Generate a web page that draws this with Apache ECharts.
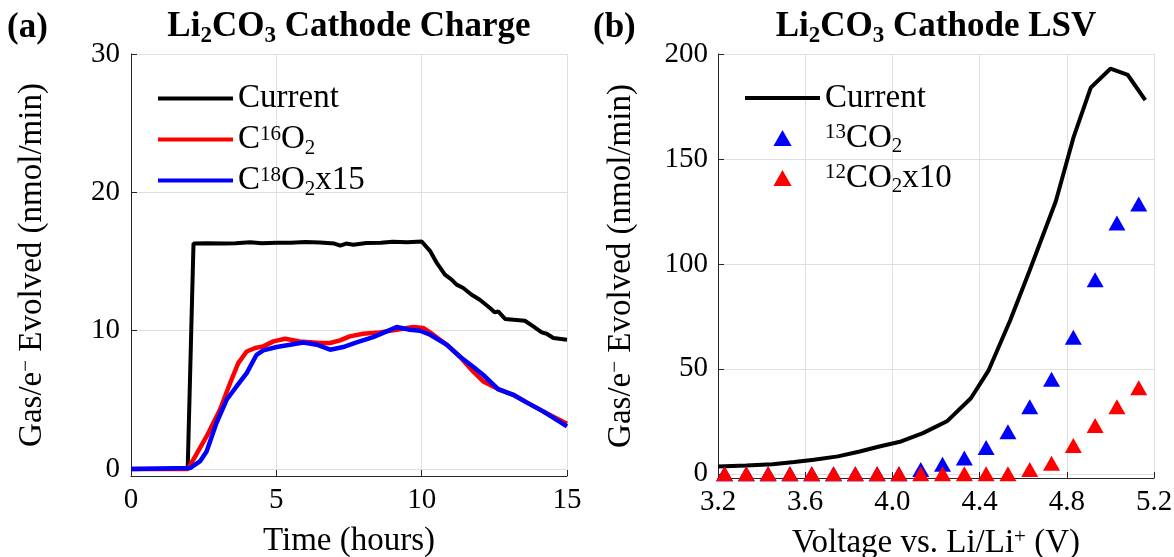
<!DOCTYPE html>
<html>
<head>
<meta charset="utf-8">
<title>Li2CO3 cathode gas evolution</title>
<script src="https://cdn.jsdelivr.net/npm/echarts@6/dist/echarts.min.js"></script>
<style>
  html, body { margin: 0; padding: 0; background: #ffffff; }
  #chart { width: 1174px; height: 557px; }
</style>
</head>
<body>
<div id="chart"></div>
<script>
// ---------- (a) galvanostatic charge: time in hours, rates in nmol/min ----------
const chargeCurrentTime = [0, 1.95, 2.15, 2.6, 3.2, 3.6, 4.1, 4.5, 5.0, 5.5, 6.0, 6.5, 7.0, 7.2, 7.4, 7.65, 8.1, 8.6, 9.0, 9.5, 10.0,
  10.3, 10.52, 10.8, 11.03, 11.2, 11.43, 11.72, 12.0, 12.35, 12.52, 12.63, 12.87, 13.55, 13.84, 14.13, 14.3, 14.53, 15.0];
const chargeCurrent = [0, 0, 16.3, 16.32, 16.3, 16.32, 16.4, 16.33, 16.35, 16.35, 16.42, 16.38, 16.3, 16.15, 16.3, 16.22, 16.34, 16.35, 16.43, 16.4, 16.45,
  15.73, 14.9, 14.05, 13.69, 13.33, 13.09, 12.6, 12.24, 11.64, 11.32, 11.4, 10.85, 10.72, 10.31, 9.88, 9.78, 9.47, 9.35];

const c16Time = [0, 1.95, 2.14, 2.6, 3.06, 3.41, 3.69, 3.98, 4.27, 4.55, 4.9, 5.3, 5.81, 6.5, 6.85, 7.19, 7.53, 7.99, 8.56, 9.14, 9.71, 10.05,
  10.4, 10.86, 11.31, 11.77, 12.12, 12.63, 13.15, 13.61, 14.18, 15.0];
const c16Rate = [0, 0, 0.67, 2.36, 4.29, 6.22, 7.66, 8.5, 8.75, 8.87, 9.23, 9.42, 9.23, 9.11, 9.11, 9.3, 9.59, 9.78, 9.88, 10.07, 10.27, 10.2,
  9.71, 8.99, 8.14, 7.06, 6.33, 5.78, 5.37, 4.82, 4.17, 3.28];

const c18Time = [0, 2.03, 2.37, 2.6, 2.94, 3.29, 3.63, 3.98, 4.32, 4.55, 5.01, 5.47, 5.93, 6.39, 6.85, 7.3, 7.76, 8.33, 8.8, 9.14, 9.6, 9.94,
  10.29, 10.86, 11.31, 11.77, 12.12, 12.63, 13.15, 13.61, 14.18, 15.0];
const c18RateX15 = [0, 0.07, 0.55, 1.27, 3.33, 5.01, 5.97, 6.94, 8.26, 8.58, 8.82, 8.99, 9.15, 8.99, 8.63, 8.82, 9.15, 9.54, 9.95, 10.27, 10.07, 10.0,
  9.71, 8.99, 8.14, 7.4, 6.8, 5.78, 5.37, 4.82, 4.17, 3.08];

const chargeTimeTicks = [0, 5, 10, 15];
const chargeRateTicks = [0, 10, 20, 30];

// ---------- (b) linear sweep voltammetry: voltage vs. Li/Li+ ----------
const lsvVoltage = [3.20, 3.33, 3.45, 3.55, 3.64, 3.75, 3.85, 3.94, 4.04, 4.14, 4.25, 4.36, 4.44, 4.54, 4.63, 4.75, 4.83, 4.91, 5.00, 5.08, 5.16];
const lsvCurrent = [3.5, 3.9, 4.6, 5.6, 6.7, 8.3, 10.6, 13, 15.4, 19.4, 25, 36, 49, 73, 97, 130, 160, 184, 193, 190, 178];

const msVoltage = [3.23, 3.33, 3.43, 3.53, 3.63, 3.73, 3.83, 3.93, 4.03, 4.13, 4.23, 4.33, 4.43, 4.53, 4.63, 4.73, 4.83, 4.93, 5.03, 5.13];
const co2_13 = [0, 0, 0, 0, 0, 0, 0, 0, 0, 2, 4.5, 7.5, 12.5, 20, 32, 45, 65, 92.5, 119.5, 128.5];
const co2_12x10 = [0, 0, 0, 0, 0, 0, 0, 0, 0, 0, 0, 0, 0, 0, 2, 5, 13.5, 23, 32, 41];

const voltageTicks = [3.2, 3.6, 4.0, 4.4, 4.8, 5.2];
const lsvRateTicks = [0, 50, 100, 150, 200];

// ---------- styling ----------
const FONT = "'Liberation Serif', 'Times New Roman', serif";
const AXIS_COLOR = '#262626';
const GRID_COLOR = '#dfdfdf';

// legend keys: a thick line segment and a filled triangle, kept at their own aspect
const LINE_KEY = 'path://M0,0 L75,0 L75,4 L0,4 Z';
const TRIANGLE_KEY = 'path://M0,15 L8.5,0 L17,15 Z';

const pairs = (xs, ys) => xs.map((x, i) => [x, ys[i]]);

// rich-text pieces for sub/superscripts
const supStyle = (lh, pad) => ({ fontFamily: FONT, fontSize: 21, lineHeight: lh, padding: [0, 0, pad, 0], color: '#000' });
const subStyle = (lh, pad) => ({ fontFamily: FONT, fontSize: 21, lineHeight: lh, padding: [pad, 0, 0, 0], color: '#000' });

function valueAxis(ticks, extra) {
  return Object.assign({
    type: 'value',
    axisLine: { show: true, onZero: false, lineStyle: { color: AXIS_COLOR, width: 1 } },
    axisTick: { show: true, inside: true, length: 6, customValues: ticks, lineStyle: { color: AXIS_COLOR, width: 1 } },
    axisLabel: { customValues: ticks, fontFamily: FONT, fontSize: 29, color: '#000' },
    splitLine: { show: true, lineStyle: { color: GRID_COLOR, width: 1 } },
    nameLocation: 'middle',
    nameTextStyle: {
      fontFamily: FONT, fontSize: 33, color: '#000', lineHeight: 40,
      rich: { sup: supStyle(29, 11) }
    }
  }, extra);
}

const titleText = () => ({
  fontFamily: FONT, fontSize: 35, fontWeight: 'bold', color: '#000', lineHeight: 40,
  rich: { sub: { fontFamily: FONT, fontSize: 23, fontWeight: 'bold', lineHeight: 22, padding: [18, 0, 0, 0], color: '#000' } }
});

const legendLabels = {
  'Charge current': 'Current',
  'C16O2': 'C{sup|16}O{sub|2}',
  'C18O2x15': 'C{sup|18}O{sub|2}x15',
  'LSV current': 'Current',
  '13CO2': '{sup|13}CO{sub|2}',
  '12CO2x10': '{sup|12}CO{sub|2}x10'
};

const legendBase = (lh) => ({
  orient: 'vertical', padding: 0, itemGap: 0, itemWidth: 75, itemHeight: 16,
  symbolKeepAspect: true,
  selectedMode: false,
  formatter: (name) => legendLabels[name],
  textStyle: {
    fontFamily: FONT, fontSize: 33, color: '#000', lineHeight: lh,
    rich: { sup: supStyle(lh - 11, 11), sub: subStyle(lh - 17, 17) }
  }
});

const chart = echarts.init(document.getElementById('chart'), null, { renderer: 'canvas' });

chart.setOption({
  animation: false,
  backgroundColor: '#ffffff',
  title: [
    { text: '(a)', left: 7, top: 8, padding: 0, textStyle: titleText() },
    { text: 'Li{sub|2}CO{sub|3} Cathode Charge', left: 349, top: 7, padding: 0, textAlign: 'center', textStyle: titleText() },
    { text: '(b)', left: 593, top: 8, padding: 0, textStyle: titleText() },
    { text: 'Li{sub|2}CO{sub|3} Cathode LSV', left: 936, top: 7, padding: 0, textAlign: 'center', textStyle: titleText() }
  ],
  legend: [
    Object.assign(legendBase(41), {
      left: 158, top: 78,
      data: [
        { name: 'Charge current', icon: LINE_KEY },
        { name: 'C16O2', icon: LINE_KEY },
        { name: 'C18O2x15', icon: LINE_KEY }
      ]
    }),
    Object.assign(legendBase(40), {
      left: 745, top: 78,
      data: [
        { name: 'LSV current', icon: LINE_KEY },
        { name: '13CO2', icon: TRIANGLE_KEY },
        { name: '12CO2x10', icon: TRIANGLE_KEY }
      ]
    })
  ],
  grid: [
    { left: 131, top: 54, width: 436, height: 422, outerBoundsMode: 'none', containLabel: false },
    { left: 718, top: 54, width: 436, height: 424, outerBoundsMode: 'none', containLabel: false }
  ],
  xAxis: [
    valueAxis(chargeTimeTicks, {
      gridIndex: 0, min: 0, max: 15, name: 'Time (hours)', nameGap: 45,
      axisLabel: { customValues: chargeTimeTicks, fontFamily: FONT, fontSize: 29, color: '#000', margin: 10 }
    }),
    valueAxis(voltageTicks, {
      gridIndex: 1, min: 3.2, max: 5.2, name: 'Voltage vs. Li/Li{sup|+} (V)', nameGap: 45,
      axisLabel: { customValues: voltageTicks, fontFamily: FONT, fontSize: 29, color: '#000', margin: 10,
        formatter: (v) => v.toFixed(1) }
    })
  ],
  yAxis: [
    valueAxis(chargeRateTicks, {
      gridIndex: 0, min: -0.5, max: 30, name: 'Gas/e{sup|\u2212} Evolved (nmol/min)', nameGap: 79,
      axisLabel: { customValues: chargeRateTicks, fontFamily: FONT, fontSize: 29, color: '#000', margin: 11 }
    }),
    valueAxis(lsvRateTicks, {
      gridIndex: 1, min: -2, max: 200, name: 'Gas/e{sup|\u2212} Evolved (nmol/min)', nameGap: 77,
      axisLabel: { customValues: lsvRateTicks, fontFamily: FONT, fontSize: 29, color: '#000', margin: 10 }
    })
  ],
  series: [
    { name: 'Charge current', type: 'line', xAxisIndex: 0, yAxisIndex: 0, data: pairs(chargeCurrentTime, chargeCurrent),
      showSymbol: false, symbol: 'none', color: '#000000', lineStyle: { color: '#000000', width: 4 }, z: 3 },
    { name: 'C16O2', type: 'line', xAxisIndex: 0, yAxisIndex: 0, data: pairs(c16Time, c16Rate),
      showSymbol: false, symbol: 'none', color: '#ff0000', lineStyle: { color: '#ff0000', width: 4.5 }, z: 4 },
    { name: 'C18O2x15', type: 'line', xAxisIndex: 0, yAxisIndex: 0, data: pairs(c18Time, c18RateX15),
      showSymbol: false, symbol: 'none', color: '#0000ff', lineStyle: { color: '#0000ff', width: 4.5 }, z: 5 },

    { name: 'LSV current', type: 'line', xAxisIndex: 1, yAxisIndex: 1, data: pairs(lsvVoltage, lsvCurrent),
      showSymbol: false, symbol: 'none', color: '#000000', lineStyle: { color: '#000000', width: 4 }, z: 3 },
    { name: '13CO2', type: 'scatter', xAxisIndex: 1, yAxisIndex: 1, data: pairs(msVoltage, co2_13),
      symbol: 'triangle', symbolSize: [17, 15], color: '#0000ff', itemStyle: { color: '#0000ff', opacity: 1 }, z: 4 },
    { name: '12CO2x10', type: 'scatter', xAxisIndex: 1, yAxisIndex: 1, data: pairs(msVoltage, co2_12x10),
      symbol: 'triangle', symbolSize: [17, 15], color: '#ff0000', itemStyle: { color: '#ff0000', opacity: 1 }, z: 5 }
  ]
});
</script>
</body>
</html>
